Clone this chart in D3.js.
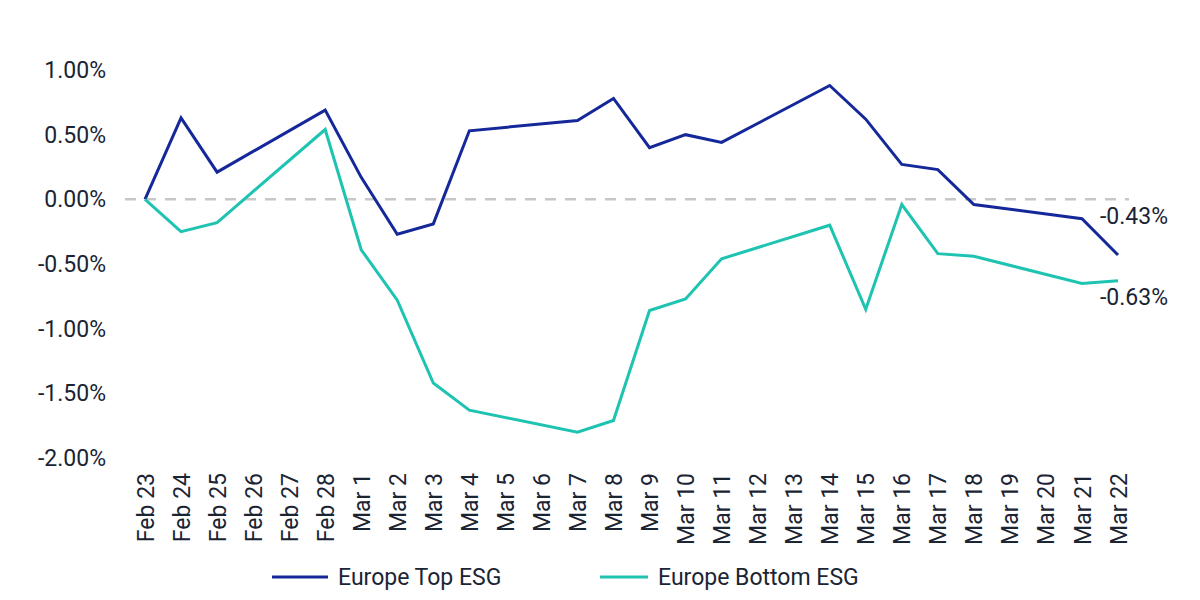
<!DOCTYPE html>
<meta charset="utf-8">
<style>
  body { margin: 0; background: #fff; }
  text { font-family: Roboto, "Noto Sans", sans-serif; }
</style>
<script src="https://d3js.org/d3.v7.min.js"></script>
<svg id="chart" width="1200" height="600"></svg>
<script>
// all calendar days shown on the axis
const dayLabels = ["Feb 23", "Feb 24", "Feb 25", "Feb 26", "Feb 27", "Feb 28",
  "Mar 1", "Mar 2", "Mar 3", "Mar 4", "Mar 5", "Mar 6", "Mar 7", "Mar 8", "Mar 9",
  "Mar 10", "Mar 11", "Mar 12", "Mar 13", "Mar 14", "Mar 15", "Mar 16", "Mar 17",
  "Mar 18", "Mar 19", "Mar 20", "Mar 21", "Mar 22"];

// trading days that have values
const tradingDays = ["Feb 23", "Feb 24", "Feb 25", "Feb 28", "Mar 1", "Mar 2", "Mar 3",
  "Mar 4", "Mar 7", "Mar 8", "Mar 9", "Mar 10", "Mar 11", "Mar 14", "Mar 15", "Mar 16",
  "Mar 17", "Mar 18", "Mar 21", "Mar 22"];

const topESG = [0, 0.63, 0.21, 0.69, 0.17, -0.27, -0.19, 0.53, 0.61, 0.78, 0.40, 0.50,
  0.44, 0.88, 0.62, 0.27, 0.23, -0.04, -0.15, -0.43];

const bottomESG = [0, -0.25, -0.18, 0.54, -0.39, -0.78, -1.42, -1.63, -1.80, -1.71, -0.86,
  -0.77, -0.46, -0.20, -0.85, -0.04, -0.42, -0.44, -0.65, -0.63];

const yTicks = [1.0, 0.5, 0, -0.5, -1.0, -1.5, -2.0];

const seriesNames = ["Europe Top ESG", "Europe Bottom ESG"];
const colors = ["#15289a", "#1ec3b1"];

const FS = 23;
const textColor = "#1b2433";
const pct = d => d3.format(".2f")(d).replace("\u2212", "-") + "%";

const svg = d3.select("#chart");

const x = d3.scalePoint()
  .domain(dayLabels)
  .range([145, 1118]);

const y = d3.scaleLinear()
  .domain([-2, 1])
  .range([458, 70]);

// y axis labels
svg.append("g")
  .attr("transform", "translate(106,0)")
  .call(d3.axisLeft(y).tickValues(yTicks).tickSize(0).tickPadding(0).tickFormat(pct))
  .call(g => g.select(".domain").remove())
  .selectAll("text")
    .attr("font-size", FS)
    .attr("fill", textColor)
    .style("font-family", "Roboto, sans-serif");

// x axis labels, rotated
svg.append("g")
  .attr("transform", "translate(0,473)")
  .call(d3.axisBottom(x).tickSize(0).tickPadding(0))
  .call(g => g.select(".domain").remove())
  .selectAll("text")
    .attr("font-size", FS)
    .attr("fill", textColor)
    .style("font-family", "Roboto, sans-serif")
    .attr("transform", "rotate(-90)")
    .attr("text-anchor", "end")
    .attr("x", 0)
    .attr("y", 0)
    .attr("dy", "0.35em");

// zero line
svg.append("line")
  .attr("x1", 125).attr("x2", 1129)
  .attr("y1", y(0)).attr("y2", y(0))
  .attr("stroke", "#c8c8c8")
  .attr("stroke-width", 2.5)
  .attr("stroke-dasharray", "11,9");

const line = d3.line()
  .x((d, i) => x(tradingDays[i]))
  .y(d => y(d));

[topESG, bottomESG].forEach((vals, k) => {
  svg.append("path")
    .datum(vals)
    .attr("fill", "none")
    .attr("stroke", colors[k])
    .attr("stroke-width", 3)
    .attr("d", line);
});

// end labels
const last = tradingDays.length - 1;
svg.append("text")
  .attr("x", 1168).attr("y", y(topESG[last]) - 39)
  .attr("text-anchor", "end")
  .attr("dy", "0.35em")
  .attr("font-size", FS)
  .attr("fill", textColor)
  .text(pct(topESG[last]));
svg.append("text")
  .attr("x", 1168).attr("y", y(bottomESG[last]) + 16)
  .attr("text-anchor", "end")
  .attr("dy", "0.35em")
  .attr("font-size", FS)
  .attr("fill", textColor)
  .text(pct(bottomESG[last]));

// legend
const legendX = [272, 600];
const legendLen = [56, 48];
seriesNames.forEach((name, k) => {
  const g = svg.append("g").attr("transform", `translate(${legendX[k]},577)`);
  g.append("line")
    .attr("x1", 0).attr("x2", legendLen[k])
    .attr("stroke", colors[k]).attr("stroke-width", 3);
  g.append("text")
    .attr("x", legendLen[k] + 10).attr("dy", "0.35em")
    .attr("font-size", FS)
    .attr("fill", textColor)
    .text(name);
});
</script>
